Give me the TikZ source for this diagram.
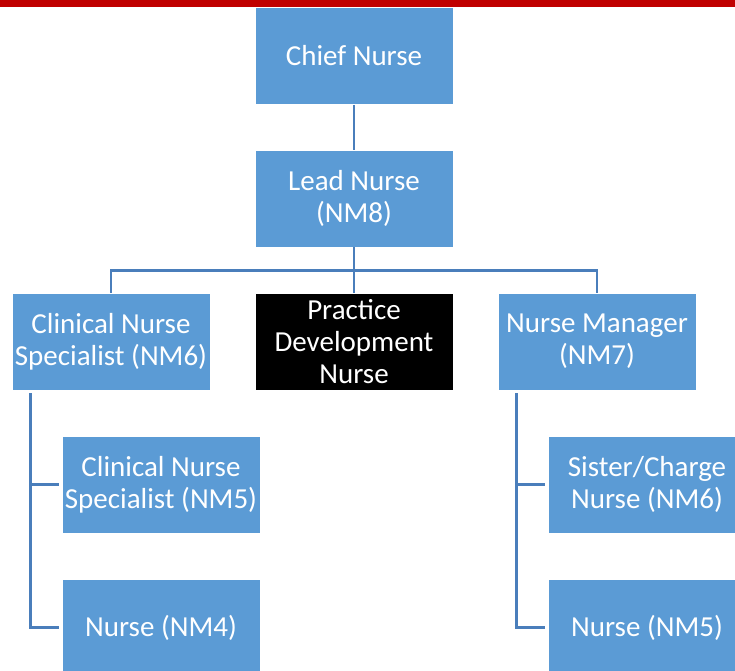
\documentclass[tikz,border=0pt]{standalone}
\usepackage{fontspec}
\setmainfont{Carlito}
\usetikzlibrary{calc}
\definecolor{boxblue}{HTML}{5B9BD5}
\definecolor{linkblue}{HTML}{4A7EBB}
\definecolor{topred}{HTML}{C00000}
\begin{document}
\begin{tikzpicture}[x=1pt,y=-1pt,
  role/.style={draw=white, line width=0.8pt, fill=boxblue, text=white,
    minimum width=198pt, minimum height=97pt, align=center, inner sep=0pt,
    font=\fontsize{29}{32}\selectfont},
  link/.style={draw=linkblue, line width=2.9pt}]
\useasboundingbox (0,0) rectangle (735,670);
\clip (0,0) rectangle (735,670);
% red band along the top edge
\fill[topred] (0,0) rectangle (735,6.5);

% boxes
\node[role] (chief) at (354,56) {Chief Nurse};
\node[role] (lead) at (354,198.5) {Lead Nurse\\(NM8)};
\node[role] (cns6) at (111,341.5) {Clinical Nurse\\Specialist (NM6)};
\node[role, fill=black] (pdn) at (354,341.5) {Practice\\Development\\Nurse};
\node[role] (nm7) at (597,341.5) {Nurse Manager\\(NM7)};
\node[role] (cns5) at (161,484.5) {Clinical Nurse\\Specialist (NM5)};
\node[role] (nm4) at (161,627.5) {Nurse (NM4)};
\node[role] (sister) at (647,484.5) {Sister/Charge\\Nurse (NM6)};
\node[role] (nm5) at (647,627.5) {Nurse (NM5)};

% top-level connectors
\draw[link] (chief) -- (lead);
\draw[link] (lead.south) -- (pdn.north);
\draw[link] (cns6.north) -- ++(0,-22.5) -| (nm7.north);

% left branch
\coordinate (ltop) at ($(cns6.south west)+(19,3)$);
\draw[link] (ltop) |- ($(nm4.west)+(-3,0)$);
\draw[link] (cns5.west -| ltop) -- ($(cns5.west)+(-3,0)$);

% right branch
\coordinate (rtop) at ($(nm7.south west)+(19,3)$);
\draw[link] (rtop) |- ($(nm5.west)+(-3,0)$);
\draw[link] (sister.west -| rtop) -- ($(sister.west)+(-3,0)$);
\end{tikzpicture}
\end{document}
